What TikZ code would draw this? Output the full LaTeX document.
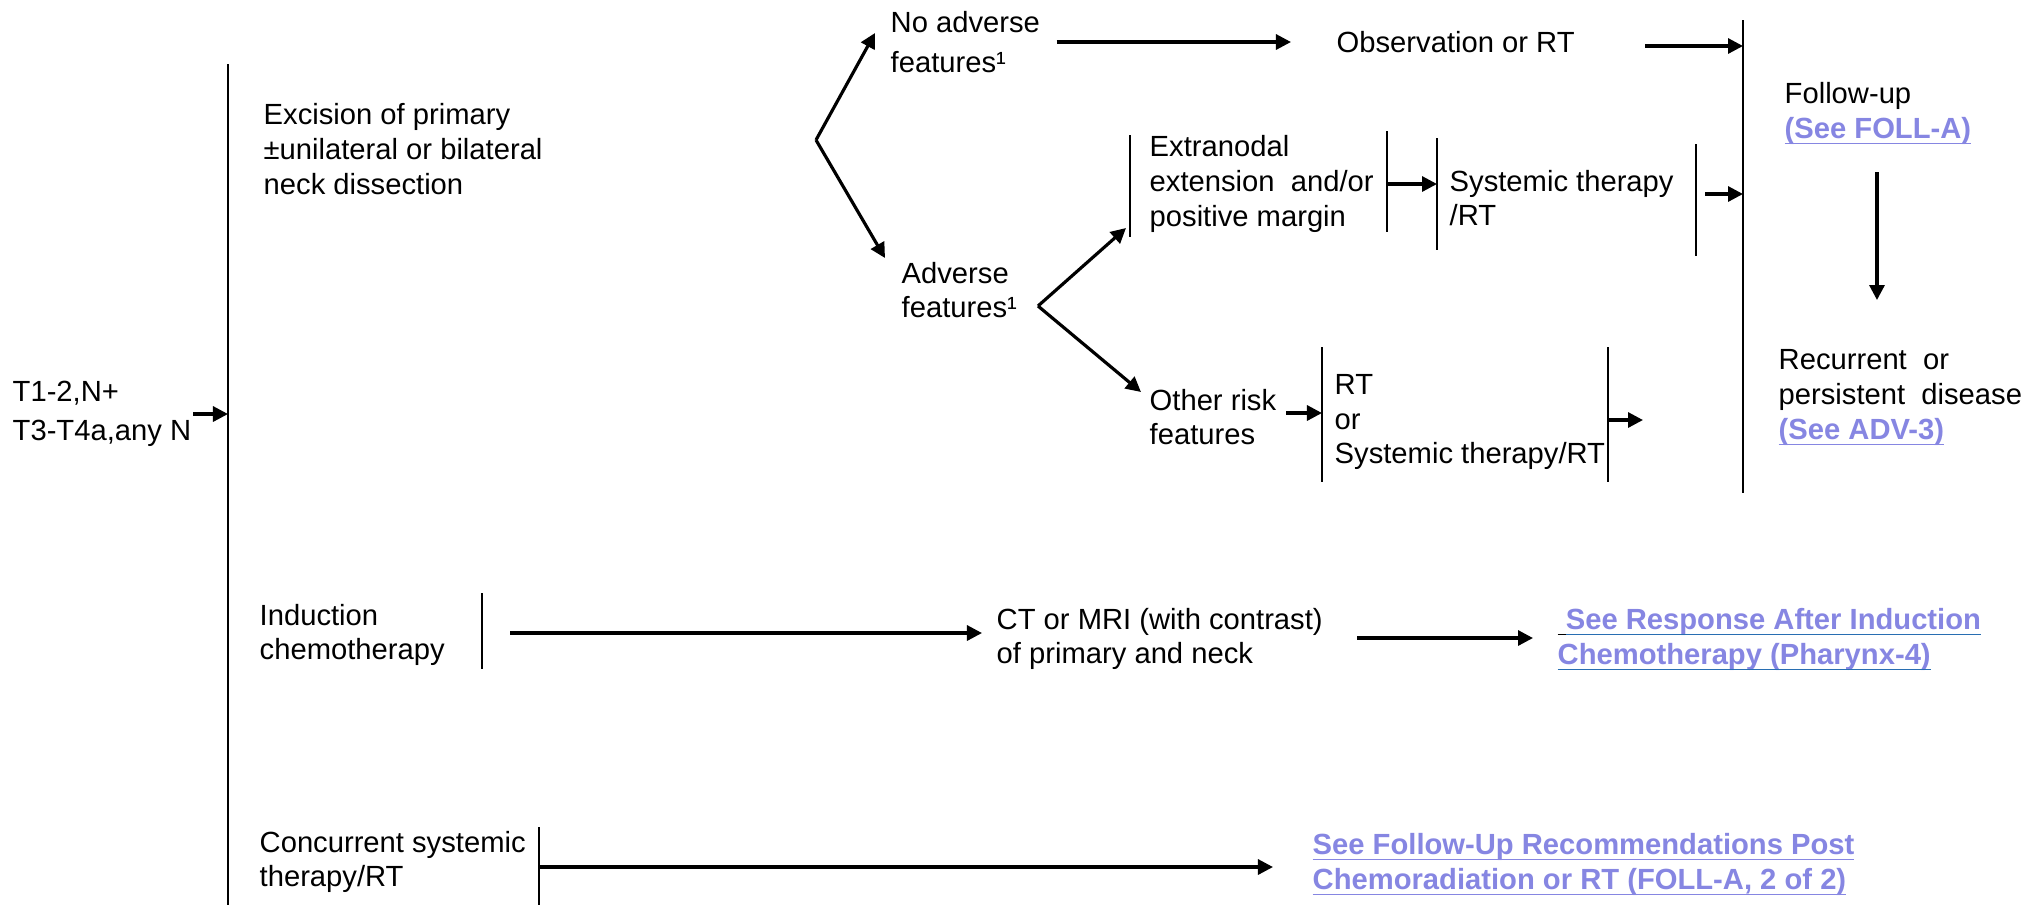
\documentclass[tikz,border=0pt]{standalone}
\usepackage{fontspec}
\setmainfont{Liberation Sans}
\usetikzlibrary{arrows.meta}
\definecolor{linkviolet}{RGB}{134,134,226}
\definecolor{linkblue}{RGB}{40,110,178}
\newcommand{\seelink}[1]{{\color{linkviolet}\bfseries\underline{\raisebox{0pt}[\height][0pt]{#1}}}}
\newcommand{\seelinkblue}[1]{{\color{linkblue}\underline{\raisebox{0pt}[\height][0pt]{\color{linkviolet}\bfseries #1}}}}
\newcommand{\blankline}{\underline{\raisebox{0pt}[\height][0pt]{\ }}}

\begin{document}
\begin{tikzpicture}[x=0.01cm, y=-0.01cm,
        txt/.style={anchor=west, inner sep=0pt, align=left, font=\fontsize{8.3}{9.9}\selectfont},
        sep/.style={line width=0.55pt},
        arrow/.style={->, >={Triangle[length=1.5mm, width=1.5mm]}, line width=0.9pt}
    ]
        \useasboundingbox (0,0) rectangle (2038,905);

        % Stage
        \node[txt] (stage) at (12,414) {T1-2,N+\\[0.04cm]T3-T4a,any N};

        % Primary treatment trunk
        \draw[sep] (228,64) coordinate (trunkT) -- (228,905) coordinate (trunkB);
        \coordinate (stageout) at (193,414);
        \draw[arrow] (stageout) -- (stageout -| trunkT);

        % Surgery
        \node[txt] (excision) at (263,149) {Excision of primary\\±unilateral or bilateral\\neck dissection};
        \coordinate (fork1) at (816,140);
        \node[txt] (noadv) at (890,42) {No adverse\\[0.05cm]features¹};
        \node[txt] (adv) at (901,290) {Adverse\\features¹};
        \draw[arrow] (fork1) -- ([shift={(-15,-9)}]noadv.west);
        \draw[arrow] (fork1) -- ([shift={(-16,-32)}]adv.west);

        % Observation
        \node[txt] (obs) at (1336,42) {Observation or RT};
        \draw[arrow] ([xshift=0.16cm]noadv.east) -- ([xshift=-0.45cm]obs.west);

        % Follow-up column
        \draw[sep] (1743,20) coordinate (fuT) -- (1743,493) coordinate (fuB);
        \coordinate (obsout) at (1645,46);
        \draw[arrow] (obsout) -- (obsout -| fuT);

        % Adverse features
        \coordinate (fork2) at (1038,306);
        \node[txt] (extra) at (1149,184) {Extranodal\\extension\ \ and/or\\positive margin};
        \node[txt] (other) at (1149,417) {Other risk\\features};
        \draw[arrow] (fork2) -- ([shift={(-23,44)}]extra.west);
        \draw[arrow] (fork2) -- ([shift={(-8,-25)}]other.west);
        \draw[sep] (1130,135) coordinate (extLT) -- (1130,237) coordinate (extLB);
        \draw[sep] (1387,131) coordinate (extRT) -- (1387,232) coordinate (extRB);

        % Systemic therapy/RT
        \node[txt] (systx) at (1449,198) {Systemic therapy\\/RT};
        \draw[sep] (1437,138) coordinate (sysLT) -- (1437,250) coordinate (sysLB);
        \draw[sep] (1696,144) coordinate (sysRT) -- (1696,256) coordinate (sysRB);
        \draw[arrow] (extra.east -| extRT) -- (extra.east -| sysLT);
        \coordinate (sysout) at (1705,194);
        \draw[arrow] (sysout) -- (sysout -| fuT);

        % RT or systemic therapy/RT
        \node[txt] (rtopt) at (1334,422) {RT\\or\\Systemic therapy/RT};
        \draw[sep] (1322,347) coordinate (rtLT) -- (1322,482) coordinate (rtLB);
        \draw[sep] (1608,347) coordinate (rtRT) -- (1608,482) coordinate (rtRB);
        \coordinate (otherout) at (1286,413);
        \draw[arrow] (otherout) -- (otherout -| rtLT);
        \coordinate (rtend) at (1643,420);
        \draw[arrow] (rtend -| rtRT) -- (rtend);

        % Follow-up and recurrence
        \node[txt] (follow) at (1784,114) {Follow-up\\\seelink{(See FOLL-A)}};
        \node[txt] (recur) at (1778,398) {Recurrent\ \ or\\persistent\ \ disease\\\seelink{(See ADV-3)}};
        \coordinate (fudown) at (1877,172);
        \coordinate (recurin) at (1877,300);
        \draw[arrow] (fudown) -- (recurin);

        % Induction chemotherapy
        \node[txt] (induct) at (259,635) {Induction\\chemotherapy};
        \draw[sep] (482,593) coordinate (indRT) -- (482,669) coordinate (indRB);
        \node[txt] (ctmri) at (996,639) {CT or MRI (with contrast)\\of primary and neck};
        \node[txt] (resp) at (1557,640) {\blankline\seelinkblue{See Response After Induction}\\\seelinkblue{Chemotherapy (Pharynx-4)}};
        \coordinate (indout) at (510,633);
        \coordinate (ctin) at (982,633);
        \draw[arrow] (indout) -- (ctin);
        \coordinate (ctout) at (1357,638);
        \coordinate (respin) at (1533,638);
        \draw[arrow] (ctout) -- (respin);

        % Concurrent systemic therapy/RT
        \node[txt] (concur) at (259,862) {Concurrent systemic\\therapy/RT};
        \draw[sep] (539,827) coordinate (conRT) -- (539,905) coordinate (conRB);
        \node[txt] (folrec) at (1312,865) {\seelink{See Follow-Up Recommendations Post}\\\seelink{Chemoradiation or RT (FOLL-A, 2 of 2)}};
        \coordinate (folin) at (1273,867);
        \draw[arrow] (folin -| conRT) -- (folin);

    \end{tikzpicture}
\end{document}
